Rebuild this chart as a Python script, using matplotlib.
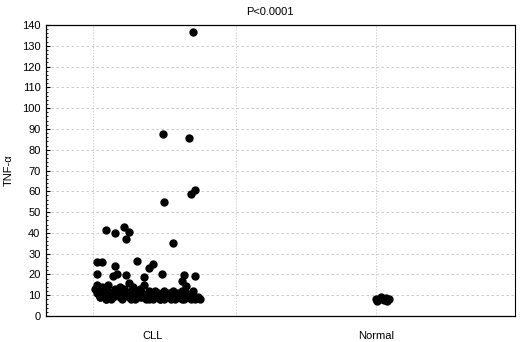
import matplotlib
matplotlib.use("Agg")
import matplotlib.pyplot as plt
from matplotlib.ticker import MultipleLocator

plt.rcParams['font.family'] = ['Liberation Sans', 'DejaVu Sans']

# group names and positions on the x axis
groups = ['CLL', 'Normal']
group_pos = [1.0, 2.0]

# CLL: jitter offset (x units from the group position) and TNF-alpha value
cll_jitter = [
    0.18, 0.045, 0.16, 0.19, 0.17, 0.05, 0.09,
    -0.21, -0.17, -0.13, -0.11, -0.12, -0.07,
    -0.25, -0.23, -0.17, 0.0, -0.02, 0.04,
    -0.25, -0.18, -0.16, -0.12, -0.04, 0.14, 0.19, 0.13, 0.15,
    -0.26, -0.25, -0.25, -0.24, -0.24, -0.23, -0.22, -0.22, -0.21, -0.20,
    -0.20, -0.19, -0.18, -0.17, -0.17, -0.16, -0.15, -0.14, -0.14, -0.13,
    -0.12, -0.11, -0.11, -0.10, -0.09, -0.08, -0.08, -0.07, -0.06, -0.05,
    -0.05, -0.04, -0.03, -0.03, -0.02, -0.01, -0.01, 0.0, 0.01, 0.01,
    0.02, 0.02, 0.03, 0.04, 0.04, 0.05, 0.05, 0.06, 0.07, 0.07, 0.08,
    0.08, 0.09, 0.10, 0.10, 0.11, 0.11, 0.12, 0.13, 0.13, 0.14, 0.14,
    0.15, 0.15, 0.16, 0.17, 0.17, 0.18, 0.18, 0.19, 0.20, 0.21,
    -0.24, -0.21, -0.19, -0.15, -0.10, -0.06, -0.02, 0.03,
]
cll_values = [
    136.6, 87.5, 85.6, 60.4, 58.7, 54.8, 35.0,
    41.2, 39.8, 43.0, 40.3, 36.9, 26.3,
    26.1, 25.8, 24.2, 24.9, 23.1, 20.2,
    20.2, 19.1, 20.0, 19.9, 18.9, 19.7, 19.4, 17.0, 14.6,
    13, 11, 15, 9, 12, 14, 10, 13, 8, 12,
    15, 11, 9, 13, 10, 12, 14, 8, 11, 13,
    10, 16, 9, 12, 14, 11, 8, 10, 13, 9,
    11, 15, 8, 10, 12, 9, 11, 8, 10, 12,
    9, 11, 8, 10, 9, 12, 8, 10, 11, 9, 8,
    10, 12, 9, 8, 11, 10, 9, 8, 12, 10, 8,
    9, 11, 10, 8, 9, 12, 10, 8, 9, 8,
    9, 8, 8, 9, 8, 9, 8, 8,
]

# Normal: small cluster
normal_jitter = [0.0, 0.02, 0.035, 0.045, 0.06, 0.005, 0.05, 0.025]
normal_values = [8.0, 9.0, 7.5, 8.5, 8.0, 7.0, 7.2, 8.2]

fig = plt.figure(figsize=(5.2, 3.42), dpi=100)
ax = fig.add_axes([46 / 520, 26 / 342, 469 / 520, 291 / 342])

ax.plot([group_pos[0] + j for j in cll_jitter], cll_values, 'o',
        color='black', markersize=5, zorder=3)
ax.plot([group_pos[1] + j for j in normal_jitter], normal_values, 'o',
        color='black', markersize=5, zorder=3)

ax.set_xlim(0.52, 2.623)
ax.set_ylim(0, 140)
ax.yaxis.set_major_locator(MultipleLocator(10))
ax.yaxis.set_minor_locator(MultipleLocator(2))
ax.set_xticks(group_pos)
ax.set_xticklabels(groups)
ax.tick_params(axis='x', length=0, pad=11, labelsize=8)
ax.tick_params(axis='y', which='major', direction='in', length=3, labelsize=8, pad=4)
ax.tick_params(axis='y', which='minor', direction='in', length=1.5)

# horizontal grid at each major tick, a few vertical grid lines
ax.grid(axis='y', which='major', color='#c4c4c4', linestyle=(0, (3, 3)), linewidth=0.6)
for gx in [0.73, 1.37, 2.0]:
    ax.axvline(gx, color='#c4c4c4', linestyle=(0, (1.5, 2)), linewidth=0.6, zorder=1)

for side in ['left', 'bottom', 'top']:
    ax.spines[side].set_linewidth(0.9)
ax.spines['right'].set_linestyle((0, (1.5, 1)))
ax.spines['right'].set_linewidth(0.8)

ax.set_ylabel('TNF-α', fontsize=8, labelpad=6)
fig.text(270 / 520, 1 - 12 / 342, 'P<0.0001', ha='center', va='center', fontsize=8)

fig.savefig('out.png', dpi=100)
